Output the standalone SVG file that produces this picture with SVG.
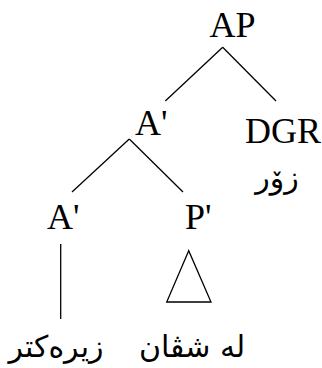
<svg xmlns="http://www.w3.org/2000/svg" width="322" height="368" viewBox="0 0 322 368">
<style>
.lbl{font-family:"Liberation Serif","DejaVu Serif",serif;font-size:36px;fill:#000}
.ku{font-family:"DejaVu Sans",sans-serif;font-size:30px;fill:#000}
.edge{stroke:#000;stroke-width:1.3;fill:none}
</style>
<rect width="322" height="368" fill="#fff"/>
<g id="connectors">
<line class="edge" x1="222.7" y1="47.3" x2="165.3" y2="101"/>
<line class="edge" x1="222.7" y1="47.3" x2="276" y2="101"/>
<line class="edge" x1="129.3" y1="139" x2="72" y2="192"/>
<line class="edge" x1="129.3" y1="139" x2="183" y2="192"/>
<line class="edge" x1="60.7" y1="244" x2="60.7" y2="319"/>
<polygon class="edge" points="188.7,250.7 166.7,302 211,302"/>
</g>
<g id="AP"><text class="lbl" x="232.5" y="37" text-anchor="middle">AP</text></g>
<g id="A1"><text class="lbl" x="135" y="135">A'</text></g>
<g id="DGR"><text class="lbl" x="245" y="143">DGR</text></g>
<g id="zor"><text class="ku" x="277" y="188" text-anchor="middle" direction="rtl">زۆر</text></g>
<g id="A2"><text class="lbl" x="47" y="229">A'</text></g>
<g id="P1"><text class="lbl" x="185" y="229">P'</text></g>
<g id="zirektir"><text class="ku" x="56" y="357" text-anchor="middle" direction="rtl">زیرەکتر</text></g>
<g id="leshvan"><text class="ku" x="192" y="357" text-anchor="middle" direction="rtl">له شڤان</text></g>
</svg>
